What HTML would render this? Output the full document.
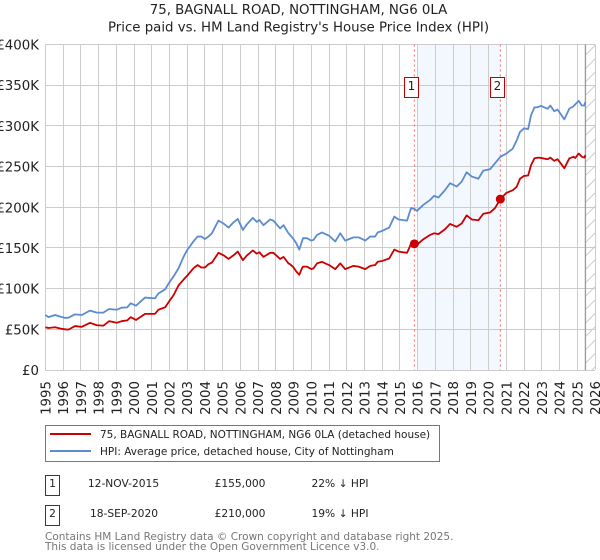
<!DOCTYPE html>
<html lang="en">
<head>
<meta charset="utf-8">
<title>75, Bagnall Road price paid vs. HPI</title>
<style>
html,body{margin:0;padding:0;background:#fff;}
svg{display:block;font-family:"DejaVu Sans","Liberation Sans",sans-serif;}
</style>
</head>
<body>
<svg id="chart" width="600" height="560" viewBox="0 0 600 560" xmlns="http://www.w3.org/2000/svg">
  <g fill="#222" font-size="13.33" text-anchor="middle">
    <text x="298.5" y="14">75, BAGNALL ROAD, NOTTINGHAM, NG6 0LA</text>
    <text x="298.5" y="31.5">Price paid vs. HM Land Registry's House Price Index (HPI)</text>
  </g>
  <g id="plot"></g>

  <g>
    <rect x="45.5" y="425.5" width="394" height="36" fill="#fff" stroke="#777" stroke-width="1"/>
    <line x1="50" x2="91" y1="434" y2="434" stroke="#cc0000" stroke-width="2"/>
    <text x="100" y="438" font-size="10.5" fill="#222">75, BAGNALL ROAD, NOTTINGHAM, NG6 0LA (detached house)</text>
    <line x1="50" x2="91" y1="451" y2="451" stroke="#5b8bd0" stroke-width="2"/>
    <text x="100" y="455" font-size="10.5" fill="#222">HPI: Average price, detached house, City of Nottingham</text>
  </g>

  <g font-size="10.67" fill="#222">
    <rect x="45.5" y="475.5" width="14" height="20" fill="#fff" stroke="#c00000" stroke-width="1"/>
    <text x="52.5" y="487" text-anchor="middle">1</text>
    <text x="123.5" y="487" text-anchor="middle">12-NOV-2015</text>
    <text x="240" y="487" text-anchor="middle">£155,000</text>
    <text x="340" y="487" text-anchor="middle">22% ↓ HPI</text>
    <rect x="45.5" y="505.5" width="14" height="20" fill="#fff" stroke="#c00000" stroke-width="1"/>
    <text x="52.5" y="517" text-anchor="middle">2</text>
    <text x="124" y="517" text-anchor="middle">18-SEP-2020</text>
    <text x="240" y="517" text-anchor="middle">£210,000</text>
    <text x="340" y="517" text-anchor="middle">19% ↓ HPI</text>
  </g>

  <g font-size="10.5" fill="#777">
    <text x="45" y="540">Contains HM Land Registry data © Crown copyright and database right 2025.</text>
    <text x="45" y="550">This data is licensed under the Open Government Licence v3.0.</text>
  </g>
</svg>
<script>
var dates = [1995.0,1995.17,1995.55,1995.83,1996.11,1996.3,1996.67,1997.05,1997.52,1997.9,1998.27,1998.59,1999.02,1999.3,1999.62,1999.81,2000.11,2000.62,2001.18,2001.37,2001.75,2002.0,2002.23,2002.51,2002.79,2003.0,2003.35,2003.58,2003.79,2004.0,2004.2,2004.39,2004.76,2005.05,2005.33,2005.61,2005.85,2006.14,2006.36,2006.7,2006.92,2007.07,2007.3,2007.68,2007.86,2008.24,2008.43,2008.71,2008.8,2009.0,2009.15,2009.32,2009.47,2009.53,2009.75,2010.0,2010.13,2010.32,2010.6,2010.79,2011.0,2011.35,2011.63,2011.91,2012.38,2012.67,2013.04,2013.32,2013.6,2013.74,2014.0,2014.39,2014.68,2014.92,2015.4,2015.62,2015.81,2015.96,2016.32,2016.7,2016.92,2017.17,2017.54,2017.82,2018.2,2018.48,2018.76,2019.05,2019.42,2019.7,2020.08,2020.36,2020.66,2021.0,2021.36,2021.58,2021.77,2022.0,2022.23,2022.39,2022.58,2022.77,2022.95,2023.33,2023.48,2023.7,2023.89,2024.27,2024.55,2024.78,2024.89,2025.08,2025.26,2025.4,2025.46];
var hpiValues = [67.6,65,67.6,65.6,64,64.3,68.4,67.6,73,70.5,70.5,75,74,76.6,77,82,79,89,88,94,99,108,115,125,139,147.5,158,164,164,161,164,168,183.6,180,175,181.5,185.7,172,179,187,182,184.4,178,185,183.6,174,178,168,166,160.7,155.7,148,158,162,162,159,160,166,169,167,165,158,168,159,163,163,159,164,164,169,171,175,188.5,185,183.6,199,198,195.5,203,209,214,212,221,229.5,225.5,231.5,243,237.7,235,245,246.7,254,262,266,272,282,292.6,297,296,313,322.5,323,324.6,321,325,318,320,308,321,324,326.6,330.7,325,325,329.5];
var priceValues = [52.5,51.6,52.5,51,50,49.6,54,53,58,55,54.5,60,58,60,61,65,61.5,69,69,74,77,85,92,104,111,116,125,129,126,126,130,132,144,141,136.5,141,145.5,135,140.6,147,143,144.7,139,144,144,136.5,139,131,130,126,121,117,125,127,127,124,125,131,133,131,129,124,131,124,128,127,124,128,129,133,134,137,148,145.5,144,155,155,154,160.7,166,168,167,173,179.5,176,180,190,185,184,192,193.5,199,210,217.6,221,225,235,238.5,239,251.6,260,261,260.6,259,261,257,259,248,260,262,260.6,266,262,261,264];
var yTicks = [0,50,100,150,200,250,300,350,400];
var yLabels = ["£0","£50K","£100K","£150K","£200K","£250K","£300K","£350K","£400K"];
var xTicks = [1995,1996,1997,1998,1999,2000,2001,2002,2003,2004,2005,2006,2007,2008,2009,2010,2011,2012,2013,2014,2015,2016,2017,2018,2019,2020,2021,2022,2023,2024,2025,2026];
var saleDates = [2015.81,2020.66];
var salePrices = [155,210];
var saleLabels = ["1","2"];
var shadeStartYear = 2016;
var dataEndYear = 2025.46;

var NS = "http://www.w3.org/2000/svg";
var plot = document.getElementById("plot");
var LEFT = 45.4, RIGHT = 595, TOP = 44.5, BOTTOM = 370;
var xMin = 1995, xMax = 2026, yMin = 0, yMax = 400;
function sx(v){ return LEFT + (v - xMin) / (xMax - xMin) * (RIGHT - LEFT); }
function sy(v){ return BOTTOM - (v - yMin) / (yMax - yMin) * (BOTTOM - TOP); }
function crisp(p){ return Math.floor(p) + 0.5; }
function make(tag, attrs, parent){
  var n = document.createElementNS(NS, tag);
  for (var k in attrs) n.setAttribute(k, attrs[k]);
  (parent || plot).appendChild(n);
  return n;
}
function linePath(xs, ys){
  var d = "";
  for (var i = 0; i < xs.length; i++) d += (i ? "L" : "M") + sx(xs[i]).toFixed(2) + " " + sy(ys[i]).toFixed(2);
  return d;
}

var shade = make("rect", {x: sx(shadeStartYear), y: TOP, width: sx(saleDates[1]) - sx(shadeStartYear), height: BOTTOM - TOP, fill: "#f3f7fe"});



yTicks.forEach(function(t, i){
  var g = make("line", {x1: LEFT, x2: RIGHT, y1: crisp(sy(t)), y2: crisp(sy(t)), stroke: "#cccccc", "stroke-width": 1});
  
  
  var l = make("text", {x: 39, y: sy(t) + 5, "text-anchor": "end", "font-size": 13.33, fill: "#222"});
  
  
  l.textContent = yLabels[i];
});

xTicks.forEach(function(t){
  var g = make("line", {x1: crisp(sx(t)), x2: crisp(sx(t)), y1: TOP, y2: BOTTOM, stroke: "#cccccc", "stroke-width": 1});
  
  
  var px = sx(t) + 5;
  var l = make("text", {x: px, y: 381, "text-anchor": "end", "font-size": 13.33, fill: "#222", transform: "rotate(-90 " + px + " 381)"});
  
  
  l.textContent = t;
});

var defs = make("defs", {});
var clip = make("clipPath", {id: "hatch-clip"}, defs);
make("rect", {x: sx(dataEndYear), y: TOP, width: RIGHT - sx(dataEndYear), height: BOTTOM - TOP}, clip);
var hatch = make("g", {"clip-path": "url(#hatch-clip)", stroke: "#cccccc", "stroke-width": 1});


for (var hy = TOP; hy < BOTTOM + 20; hy += 13.4) {
  make("line", {x1: 582, y1: hy + 14, x2: 596, y2: hy}, hatch);
}

var endLine = make("line", {x1: sx(dataEndYear), x2: sx(dataEndYear), y1: TOP, y2: BOTTOM, stroke: "#999999", "stroke-width": 1.3});



saleDates.forEach(function(d){
  var v = make("line", {x1: sx(d), x2: sx(d), y1: TOP, y2: BOTTOM, stroke: "#ff6666", "stroke-width": 1, "stroke-dasharray": "2 3"});
  
  
});

var hpiLine = make("path", {d: linePath(dates, hpiValues), fill: "none", stroke: "#5b8bd0", "stroke-width": 1.8, "stroke-linejoin": "round"});



var priceLine = make("path", {d: linePath(dates, priceValues), fill: "none", stroke: "#cc0000", "stroke-width": 1.8, "stroke-linejoin": "round"});



saleDates.forEach(function(d, i){
  var m = make("circle", {cx: sx(d), cy: sy(salePrices[i]), r: 4.5, fill: "#cc0000"});
  
  
  var b = make("rect", {x: Math.round(sx(d) - 10) + 0.5, y: 77.5, width: 14, height: 20, fill: "#fff", stroke: "#c00000", "stroke-width": 1});
  
  
  var t = make("text", {x: Math.round(sx(d) - 10) + 7.5, y: 90, "text-anchor": "middle", "font-size": 12, fill: "#222"});
  
  
  t.textContent = saleLabels[i];
});
</script>
</body>
</html>
